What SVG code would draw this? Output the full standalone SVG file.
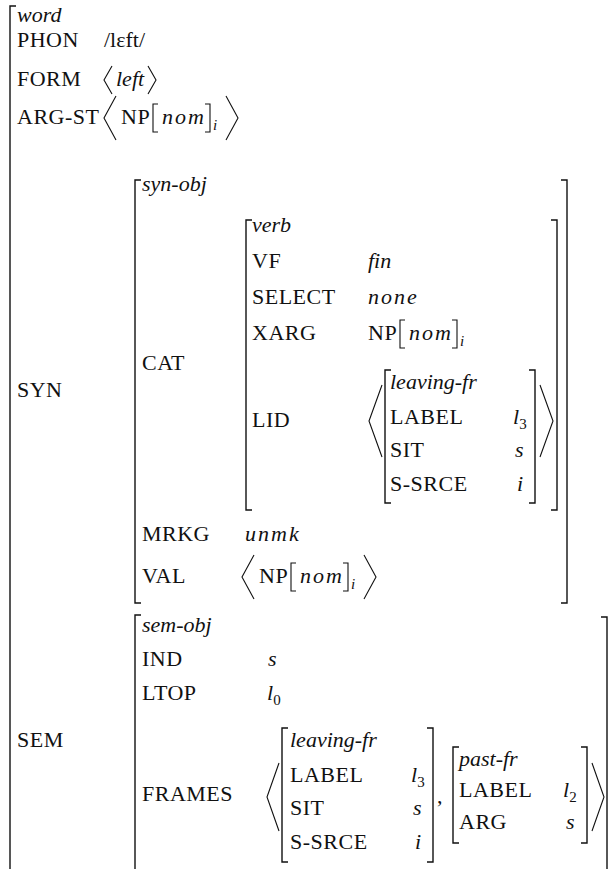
<svg xmlns="http://www.w3.org/2000/svg" width="610" height="869" viewBox="0 0 610 869">
  <style>
    .b { fill: none; stroke: #111; stroke-width: 1.4; }
    .a { fill: none; stroke: #111; stroke-width: 1.1; }
  </style>
  <rect width="610" height="869" fill="#fff"/>

  <!-- outermost word structure -->
  <g id="avm-word">
    <path class="b" d="M16,6 H10 V875"/>
    <text font-family="Liberation Serif" font-size="22" fill="#111" font-style="italic" x="17" y="22">word</text>
    <text font-family="Liberation Serif" font-size="22" fill="#111" letter-spacing="0.5" x="17" y="47">PHON</text>
    <text font-family="Liberation Serif" font-size="22" fill="#111" x="104" y="47">/lɛft/</text>
    <text font-family="Liberation Serif" font-size="22" fill="#111" letter-spacing="0.5" x="17" y="86">FORM</text>
    <path class="a" d="M112,66 L104,80 L112,94"/>
    <text font-family="Liberation Serif" font-size="22" fill="#111" font-style="italic" x="116" y="86">left</text>
    <path class="a" d="M148,66 L156,80 L148,94"/>
    <text font-family="Liberation Serif" font-size="22" fill="#111" letter-spacing="0.5" x="17" y="124">ARG-ST</text>
    <path class="a" d="M116,96 L104,118 L116,140"/>
    <text font-family="Liberation Serif" font-size="22" fill="#111" letter-spacing="0.5" x="121" y="124">NP</text>
    <path class="a" d="M158,104 H153 V132 H158"/>
    <text font-family="Liberation Serif" font-size="22" fill="#111" font-style="italic" letter-spacing="2" x="162" y="124">nom</text>
    <path class="a" d="M205,104 H210 V132 H205"/>
    <text font-family="Liberation Serif" font-size="15" fill="#111" font-style="italic" x="213" y="130">i</text>
    <path class="a" d="M226,96 L238,118 L226,140"/>
    <text font-family="Liberation Serif" font-size="22" fill="#111" letter-spacing="0.5" x="17" y="397">SYN</text>
    <text font-family="Liberation Serif" font-size="22" fill="#111" letter-spacing="0.5" x="17" y="747">SEM</text>
  </g>

  <!-- SYN value -->
  <g id="avm-syn">
    <path class="b" d="M141,180 H135 V603 H141"/>
    <path class="b" d="M561,180 H567 V603 H561"/>
    <text font-family="Liberation Serif" font-size="22" fill="#111" font-style="italic" x="142" y="191">syn-obj</text>
    <text font-family="Liberation Serif" font-size="22" fill="#111" letter-spacing="0.5" x="142" y="370">CAT</text>
    <text font-family="Liberation Serif" font-size="22" fill="#111" letter-spacing="0.5" x="142" y="541">MRKG</text>
    <text font-family="Liberation Serif" font-size="22" fill="#111" font-style="italic" letter-spacing="2" x="245" y="541">unmk</text>
    <text font-family="Liberation Serif" font-size="22" fill="#111" letter-spacing="0.5" x="142" y="583">VAL</text>
    <path class="a" d="M254,555 L242,577 L254,599"/>
    <text font-family="Liberation Serif" font-size="22" fill="#111" letter-spacing="0.5" x="259" y="583">NP</text>
    <path class="a" d="M296,563 H291 V591 H296"/>
    <text font-family="Liberation Serif" font-size="22" fill="#111" font-style="italic" letter-spacing="2" x="300" y="583">nom</text>
    <path class="a" d="M343,563 H348 V591 H343"/>
    <text font-family="Liberation Serif" font-size="15" fill="#111" font-style="italic" x="351" y="589">i</text>
    <path class="a" d="M364,555 L376,577 L364,599"/>
  </g>

  <!-- CAT value -->
  <g id="avm-cat">
    <path class="b" d="M252,220 H246 V510 H252"/>
    <path class="b" d="M551,220 H557 V510 H551"/>
    <text font-family="Liberation Serif" font-size="22" fill="#111" font-style="italic" x="252" y="232">verb</text>
    <text font-family="Liberation Serif" font-size="22" fill="#111" letter-spacing="0.5" x="252" y="268">VF</text>
    <text font-family="Liberation Serif" font-size="22" fill="#111" font-style="italic" x="368" y="268">fin</text>
    <text font-family="Liberation Serif" font-size="22" fill="#111" letter-spacing="0.5" x="252" y="304">SELECT</text>
    <text font-family="Liberation Serif" font-size="22" fill="#111" font-style="italic" letter-spacing="2" x="368" y="304">none</text>
    <text font-family="Liberation Serif" font-size="22" fill="#111" letter-spacing="0.5" x="252" y="340">XARG</text>
    <text font-family="Liberation Serif" font-size="22" fill="#111" letter-spacing="0.5" x="368" y="340">NP</text>
    <path class="a" d="M405,320 H400 V348 H405"/>
    <text font-family="Liberation Serif" font-size="22" fill="#111" font-style="italic" letter-spacing="2" x="409" y="340">nom</text>
    <path class="a" d="M452,320 H457 V348 H452"/>
    <text font-family="Liberation Serif" font-size="15" fill="#111" font-style="italic" x="460" y="346">i</text>
    <text font-family="Liberation Serif" font-size="22" fill="#111" letter-spacing="0.5" x="252" y="427">LID</text>
    <path class="a" d="M382,385 L369,421 L382,457"/>
    <path class="a" d="M540,385 L553,421 L540,457"/>
  </g>

  <!-- frame inside LID -->
  <g id="avm-lid-frame">
    <path class="b" d="M391,370 H385 V503 H391"/>
    <path class="b" d="M529,370 H535 V503 H529"/>
    <text font-family="Liberation Serif" font-size="22" fill="#111" font-style="italic" x="390" y="389">leaving-fr</text>
    <text font-family="Liberation Serif" font-size="22" fill="#111" letter-spacing="0.5" x="390" y="424">LABEL</text>
    <text font-family="Liberation Serif" font-size="22" fill="#111" font-style="italic" x="513" y="424">l<tspan font-size="15" font-style="normal" dy="5">3</tspan></text>
    <text font-family="Liberation Serif" font-size="22" fill="#111" letter-spacing="0.5" x="390" y="457">SIT</text>
    <text font-family="Liberation Serif" font-size="22" fill="#111" font-style="italic" x="515" y="457">s</text>
    <text font-family="Liberation Serif" font-size="22" fill="#111" letter-spacing="0.5" x="390" y="491">S-SRCE</text>
    <text font-family="Liberation Serif" font-size="22" fill="#111" font-style="italic" x="517" y="491">i</text>
  </g>

  <!-- SEM value -->
  <g id="avm-sem">
    <path class="b" d="M141,615 H135 V875"/>
    <path class="b" d="M601,617 H607 V875"/>
    <text font-family="Liberation Serif" font-size="22" fill="#111" font-style="italic" x="142" y="632">sem-obj</text>
    <text font-family="Liberation Serif" font-size="22" fill="#111" letter-spacing="0.5" x="142" y="666">IND</text>
    <text font-family="Liberation Serif" font-size="22" fill="#111" font-style="italic" x="268" y="666">s</text>
    <text font-family="Liberation Serif" font-size="22" fill="#111" letter-spacing="0.5" x="142" y="700">LTOP</text>
    <text font-family="Liberation Serif" font-size="22" fill="#111" font-style="italic" x="267" y="700">l<tspan font-size="15" font-style="normal" dy="5">0</tspan></text>
    <text font-family="Liberation Serif" font-size="22" fill="#111" letter-spacing="0.5" x="142" y="801">FRAMES</text>
    <path class="a" d="M279,763 L267,797 L279,831"/>
    <text font-family="Liberation Serif" font-size="22" fill="#111" x="437" y="803">,</text>
    <path class="a" d="M592,763 L604,797 L592,831"/>
  </g>

  <!-- first frame in FRAMES -->
  <g id="avm-leaving">
    <path class="b" d="M288,728 H282 V862 H288"/>
    <path class="b" d="M427,728 H433 V862 H427"/>
    <text font-family="Liberation Serif" font-size="22" fill="#111" font-style="italic" x="290" y="747">leaving-fr</text>
    <text font-family="Liberation Serif" font-size="22" fill="#111" letter-spacing="0.5" x="290" y="782">LABEL</text>
    <text font-family="Liberation Serif" font-size="22" fill="#111" font-style="italic" x="411" y="782">l<tspan font-size="15" font-style="normal" dy="5">3</tspan></text>
    <text font-family="Liberation Serif" font-size="22" fill="#111" letter-spacing="0.5" x="290" y="815">SIT</text>
    <text font-family="Liberation Serif" font-size="22" fill="#111" font-style="italic" x="413" y="815">s</text>
    <text font-family="Liberation Serif" font-size="22" fill="#111" letter-spacing="0.5" x="290" y="849">S-SRCE</text>
    <text font-family="Liberation Serif" font-size="22" fill="#111" font-style="italic" x="415" y="849">i</text>
  </g>

  <!-- second frame in FRAMES -->
  <g id="avm-past">
    <path class="b" d="M459,747 H453 V843 H459"/>
    <path class="b" d="M581,747 H587 V843 H581"/>
    <text font-family="Liberation Serif" font-size="22" fill="#111" font-style="italic" x="459" y="766">past-fr</text>
    <text font-family="Liberation Serif" font-size="22" fill="#111" letter-spacing="0.5" x="459" y="797">LABEL</text>
    <text font-family="Liberation Serif" font-size="22" fill="#111" font-style="italic" x="563" y="797">l<tspan font-size="15" font-style="normal" dy="5">2</tspan></text>
    <text font-family="Liberation Serif" font-size="22" fill="#111" letter-spacing="0.5" x="459" y="829">ARG</text>
    <text font-family="Liberation Serif" font-size="22" fill="#111" font-style="italic" x="566" y="829">s</text>
  </g>
</svg>
